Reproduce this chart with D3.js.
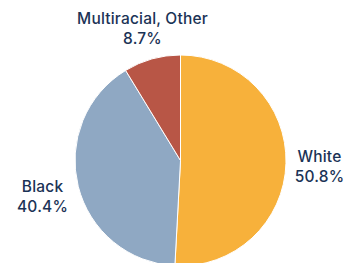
<!DOCTYPE html>
<html lang="en">
<head>
<meta charset="UTF-8">
<title>Pie</title>
<script src="https://d3js.org/d3.v7.min.js"></script>
<style>
  body { margin: 0; background: #fff; }
  .label { font-family: Inter, "Noto Sans", sans-serif; font-size: 15.5px; font-weight: 500; fill: #1b3356; letter-spacing: 0.2px; }
</style>
</head>
<body>
<div id="chart"></div>
<script>
const categories = ["White", "Black", "Multiracial, Other"];
const values = [50.8, 40.4, 8.7];
const colors = ["#f7b13b", "#8fa8c3", "#b85646"];

// label anchor positions relative to pie centre
const labelPos = [[139, 1], [-138, 31], [-38, -137]];

const width = 357, height = 263;
const cx = 180.5, cy = 160.5, r = 105.5;

const svg = d3.select("#chart").append("svg")
    .attr("width", width)
    .attr("height", height);

const g = svg.append("g").attr("transform", "translate(" + cx + "," + cy + ")");

const pie = d3.pie().sort(null).value(d => d)(values);
const arc = d3.arc().innerRadius(0).outerRadius(r);

g.selectAll("path")
    .data(pie)
    .enter().append("path")
    .attr("d", arc)
    .attr("fill", (d, i) => colors[i])
    .attr("stroke", "#fff")
    .attr("stroke-width", 1);

const lab = g.selectAll("text")
    .data(pie)
    .enter().append("text")
    .attr("class", "label")
    .attr("text-anchor", "middle")
    .attr("transform", (d, i) => "translate(" + labelPos[i][0] + "," + labelPos[i][1] + ")");

lab.append("tspan").attr("x", 0).attr("y", 0).text((d, i) => categories[i]);
lab.append("tspan").attr("x", 0).attr("y", 20).text(d => d.value.toFixed(1) + "%");
</script>
</body>
</html>
